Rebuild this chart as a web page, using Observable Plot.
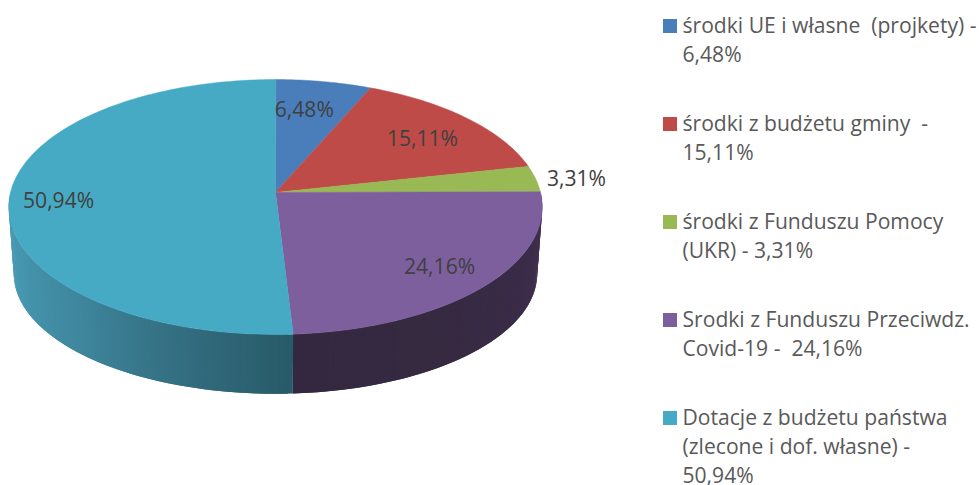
<!DOCTYPE html>
<html lang="pl">
<head>
<meta charset="utf-8">
<script src="https://cdn.jsdelivr.net/npm/d3@7"></script>
<script src="https://cdn.jsdelivr.net/npm/@observablehq/plot@0.6"></script>
<style>
html,body{margin:0;padding:0;background:#fff;overflow:hidden}
svg text{white-space:pre}
</style>
</head>
<body>
<div id="chart"></div>
<script>
// Data
const shares = [6.48, 15.11, 3.31, 24.16, 50.94];
const valueLabels = ["6,48%", "15,11%", "3,31%", "24,16%", "50,94%"];
const legendLabels = [
  "środki UE i własne  (projkety) -\n6,48%",
  "środki z budżetu gminy  -\n15,11%",
  "środki z Funduszu Pomocy\n(UKR) - 3,31%",
  "Srodki z Funduszu Przeciwdz.\nCovid-19 -  24,16%",
  "Dotacje z budżetu państwa\n(zlecone i dof. własne) -\n50,94%"
];
const topColors = ["#4a7ebb", "#be4b48", "#98b954", "#7d5f9e", "#46aac4"];
const wallStops = [
  [],[],[],
  ["#443151", "#3a2b48", "#352a40", "#332840"],
  ["#285b69", "#346f82", "#3f879e", "#4696ae", "#4a9cb5"]
];

// Placement of each value label on the disc, in disc radii and degrees
const labelRadius = [0.714, 0.731, 1.154, 0.805, 0.815];
const labelTurn = [-2.2, 2.3, 1.1, 0.8, -3.4];

// Perspective view of the disc: top face and bottom rim
const topDisc = {cx: 275, cy: 192, w: 265, h: 125.8, k: 0.1136};
const baseDisc = {cx: 275, cy: 259.6, w: 260, h: 118.5, k: 0.1136};
const rad = d => d * Math.PI / 180;
function project(disc, deg, r = 1) {
  const u = r * Math.sin(rad(deg)), v = r * Math.cos(rad(deg));
  const s = 1 + disc.k * v;
  return {x: disc.cx + disc.w * u / s, y: disc.cy - disc.h * v / s};
}

// Cumulative slice angles
const total = d3.sum(shares);
let run = 0;
const slices = shares.map((v, i) => {
  const a0 = run / total * 360;
  run += v;
  return {i, a0, a1: run / total * 360};
});

// Top face polygons
const topPoints = slices.flatMap(s => {
  const n = Math.max(2, Math.ceil(s.a1 - s.a0));
  const arc = d3.range(n + 1).map(j => project(topDisc, s.a0 + (s.a1 - s.a0) * j / n));
  return [{x: topDisc.cx, y: topDisc.cy}, ...arc].map(p => ({...p, id: s.i, color: topColors[s.i]}));
});

// Side wall: narrow strips along the front rim, each overlapping the next
const wallPoints = [];
slices.filter(s => wallStops[s.i].length).forEach(s => {
  const from = Math.max(s.a0, 90), to = Math.min(s.a1, 270);
  const ramp = d3.piecewise(d3.interpolateRgb, wallStops[s.i]);
  const n = Math.ceil(to - from);
  for (let j = 0; j < n; ++j) {
    const a = from + (to - from) * j / n, b = Math.min(to, from + (to - from) * (j + 2) / n);
    const color = ramp(j / n);
    [project(topDisc, a), project(topDisc, b), project(baseDisc, b), project(baseDisc, a)]
      .forEach(p => wallPoints.push({...p, id: `${s.i}-${j}`, color}));
  }
});

// Value labels
const valueMarks = slices.map(s => {
  const p = project(topDisc, (s.a0 + s.a1) / 2 + labelTurn[s.i], labelRadius[s.i]);
  return {...p, label: valueLabels[s.i]};
});

// Legend layout
const fontSize = 21.1;
const legendLeft = 663, legendBox = 14, legendTop = 19, legendPitch = 98, textGap = 5, lineStep = 29, textRaise = 7;
const legendRows = legendLabels.map((label, i) => ({
  label,
  color: topColors[i],
  x1: legendLeft,
  x2: legendLeft + legendBox,
  y1: legendTop + i * legendPitch,
  y2: legendTop + i * legendPitch + legendBox,
  tx: legendLeft + legendBox + textGap,
  ty: legendTop + i * legendPitch - textRaise
}));

const fontFamily = "'Open Sans', sans-serif";

const chart = Plot.plot({
  width: 980,
  height: 485,
  margin: 0,
  style: {background: "#fff", fontFamily},
  x: {domain: [0, 980], range: [0, 980], axis: null},
  y: {domain: [0, 485], range: [0, 485], axis: null},
  color: {type: "identity"},
  marks: [
    Plot.line(wallPoints, {x: "x", y: "y", z: "id", fill: "color", curve: "linear-closed"}),
    Plot.line(topPoints, {x: "x", y: "y", z: "id", fill: "color", stroke: "color", strokeWidth: 0.5, curve: "linear-closed"}),
    Plot.text(valueMarks, {x: "x", y: "y", text: "label", fill: "#404040", fontSize, textAnchor: "middle"}),
    Plot.rect(legendRows, {x1: "x1", x2: "x2", y1: "y1", y2: "y2", fill: "color"}),
    Plot.text(legendRows, {x: "tx", y: "ty", text: "label", fill: "#595959", fontSize, textAnchor: "start", lineAnchor: "top", lineHeight: lineStep / fontSize})
  ]
});
document.getElementById("chart").appendChild(chart);
</script>
</body>
</html>
